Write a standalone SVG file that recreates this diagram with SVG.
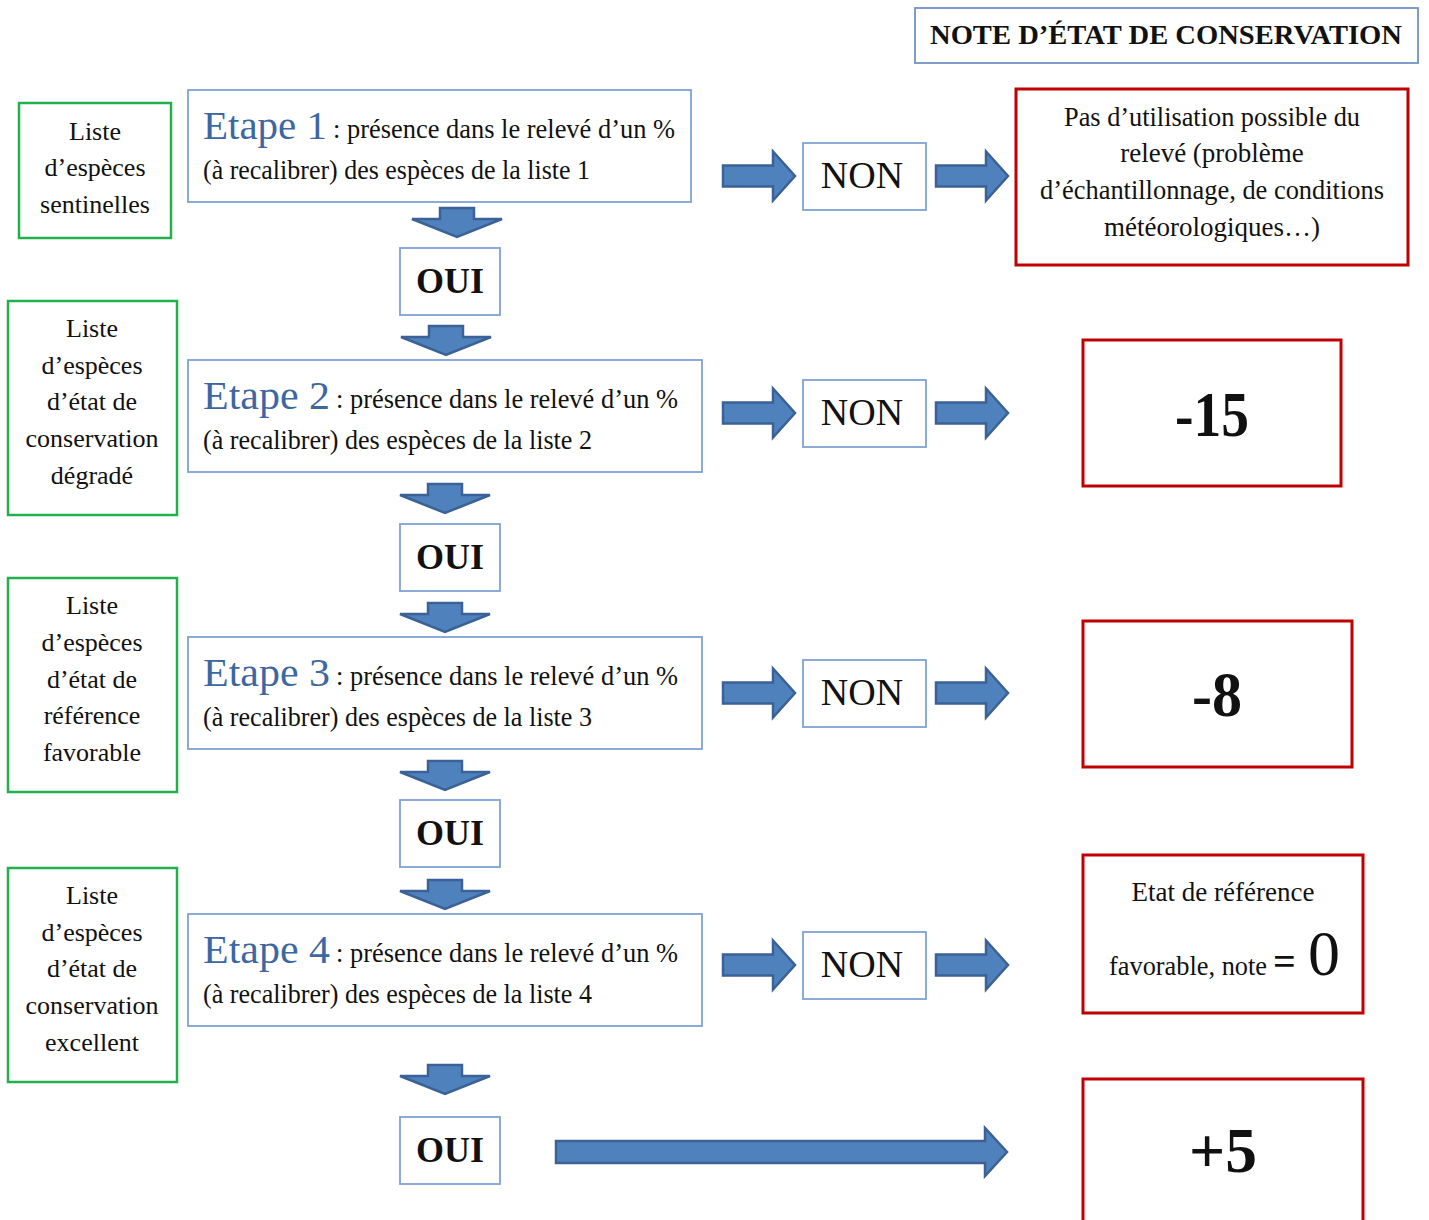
<svg xmlns="http://www.w3.org/2000/svg" width="1429" height="1220" viewBox="0 0 1429 1220">
<style>
text{font-family:"Liberation Serif","DejaVu Serif",serif;fill:#111}
.g{fill:#fff;stroke:#22b04c;stroke-width:2.5}
.b{fill:#fff;stroke:#7fa2d4;stroke-width:1.8}
.r{fill:#fff;stroke:#c00000;stroke-width:3}
.t{fill:#fff;stroke:#6f93c8;stroke-width:1.8}
.arr{fill:#4f81bd;stroke:#3a6296;stroke-width:2.5;stroke-linejoin:miter}
.gt{font-size:26px;text-anchor:middle}
.et{font-size:40px;fill:#3d67a2}
.st{font-size:27px}
.oui{font-size:36px;font-weight:bold;text-anchor:middle}
.non{font-size:38px;text-anchor:middle}
.rt{font-size:27px;text-anchor:middle}
.big{font-size:64px;text-anchor:middle}
</style>
<defs>
<path id="da" d="M-17,0 H17 V11 H45 L0,29 L-45,11 H-17 Z"/>
<path id="ra" d="M0,-10.5 H50 V-24.5 L72,0 L50,24.5 V10.5 H0 Z"/>
</defs>

<g id="title">
<rect class="t" x="915" y="8" width="503" height="55"/>
<text x="1166" y="44" font-size="28" font-weight="bold" text-anchor="middle" textLength="472" lengthAdjust="spacingAndGlyphs">NOTE D’ÉTAT DE CONSERVATION</text>
</g>

<g id="liste1">
<rect class="g" x="19" y="103" width="152" height="135"/>
<text class="gt" x="95" y="140">Liste</text>
<text class="gt" x="95" y="176">d’espèces</text>
<text class="gt" x="95" y="213">sentinelles</text>
</g>
<g id="liste2">
<rect class="g" x="8" y="301" width="169" height="214"/>
<text class="gt" x="92" y="337">Liste</text>
<text class="gt" x="92" y="374">d’espèces</text>
<text class="gt" x="92" y="410">d’état de</text>
<text class="gt" x="92" y="447">conservation</text>
<text class="gt" x="92" y="484">dégradé</text>
</g>
<g id="liste3">
<rect class="g" x="8" y="578" width="169" height="214"/>
<text class="gt" x="92" y="614">Liste</text>
<text class="gt" x="92" y="651">d’espèces</text>
<text class="gt" x="92" y="688">d’état de</text>
<text class="gt" x="92" y="724">référence</text>
<text class="gt" x="92" y="761">favorable</text>
</g>
<g id="liste4">
<rect class="g" x="8" y="868" width="169" height="214"/>
<text class="gt" x="92" y="904">Liste</text>
<text class="gt" x="92" y="941">d’espèces</text>
<text class="gt" x="92" y="977">d’état de</text>
<text class="gt" x="92" y="1014">conservation</text>
<text class="gt" x="92" y="1051">excellent</text>
</g>

<g id="etape1">
<rect class="b" x="188" y="90" width="503" height="112"/>
<text class="et" x="203" y="139" textLength="124" lengthAdjust="spacingAndGlyphs">Etape 1</text>
<text class="st" x="333" y="138" textLength="342" lengthAdjust="spacingAndGlyphs">: présence dans le relevé d’un %</text>
<text class="st" x="203" y="179" textLength="387" lengthAdjust="spacingAndGlyphs">(à recalibrer) des espèces de la liste 1</text>
</g>
<g id="etape2">
<rect class="b" x="188" y="360" width="514" height="112"/>
<text class="et" x="203" y="409" textLength="127" lengthAdjust="spacingAndGlyphs">Etape 2</text>
<text class="st" x="336" y="408" textLength="342" lengthAdjust="spacingAndGlyphs">: présence dans le relevé d’un %</text>
<text class="st" x="203" y="449" textLength="389" lengthAdjust="spacingAndGlyphs">(à recalibrer) des espèces de la liste 2</text>
</g>
<g id="etape3">
<rect class="b" x="188" y="637" width="514" height="112"/>
<text class="et" x="203" y="686" textLength="127" lengthAdjust="spacingAndGlyphs">Etape 3</text>
<text class="st" x="336" y="685" textLength="342" lengthAdjust="spacingAndGlyphs">: présence dans le relevé d’un %</text>
<text class="st" x="203" y="726" textLength="389" lengthAdjust="spacingAndGlyphs">(à recalibrer) des espèces de la liste 3</text>
</g>
<g id="etape4">
<rect class="b" x="188" y="914" width="514" height="112"/>
<text class="et" x="203" y="963" textLength="127" lengthAdjust="spacingAndGlyphs">Etape 4</text>
<text class="st" x="336" y="962" textLength="342" lengthAdjust="spacingAndGlyphs">: présence dans le relevé d’un %</text>
<text class="st" x="203" y="1003" textLength="389" lengthAdjust="spacingAndGlyphs">(à recalibrer) des espèces de la liste 4</text>
</g>

<g id="oui1"><rect class="b" x="400" y="248" width="100" height="67"/><text class="oui" x="450" y="293">OUI</text></g>
<g id="oui2"><rect class="b" x="400" y="524" width="100" height="67"/><text class="oui" x="450" y="569">OUI</text></g>
<g id="oui3"><rect class="b" x="400" y="800" width="100" height="67"/><text class="oui" x="450" y="845">OUI</text></g>
<g id="oui4"><rect class="b" x="400" y="1117" width="100" height="67"/><text class="oui" x="450" y="1162">OUI</text></g>

<g id="non1"><rect class="b" x="803" y="143" width="123" height="67"/><text class="non" x="862" y="188">NON</text></g>
<g id="non2"><rect class="b" x="803" y="380" width="123" height="67"/><text class="non" x="862" y="425">NON</text></g>
<g id="non3"><rect class="b" x="803" y="660" width="123" height="67"/><text class="non" x="862" y="705">NON</text></g>
<g id="non4"><rect class="b" x="803" y="932" width="123" height="67"/><text class="non" x="862" y="977">NON</text></g>

<g id="res1">
<rect class="r" x="1016" y="89" width="392" height="176"/>
<text class="rt" x="1212" y="126" textLength="296" lengthAdjust="spacingAndGlyphs">Pas d’utilisation possible du</text>
<text class="rt" x="1212" y="162">relevé (problème</text>
<text class="rt" x="1212" y="199" textLength="344" lengthAdjust="spacingAndGlyphs">d’échantillonnage, de conditions</text>
<text class="rt" x="1212" y="236">météorologiques…)</text>
</g>
<g id="res2">
<rect class="r" x="1083" y="340" width="258" height="146"/>
<text class="big" x="1212" y="436" font-weight="bold" textLength="74" lengthAdjust="spacingAndGlyphs">-15</text>
</g>
<g id="res3">
<rect class="r" x="1083" y="621" width="269" height="146"/>
<text class="big" x="1217" y="716" font-weight="bold" textLength="50" lengthAdjust="spacingAndGlyphs">-8</text>
</g>
<g id="res4">
<rect class="r" x="1083" y="855" width="280" height="158"/>
<text class="rt" x="1223" y="901">Etat de référence</text>
<text x="1109" y="975" font-size="27" textLength="158" lengthAdjust="spacingAndGlyphs">favorable, note</text>
<text x="1273" y="975" font-size="40" font-weight="bold">=</text>
<text x="1308" y="975" font-size="64">0</text>
</g>
<g id="res5">
<rect class="r" x="1083" y="1079" width="280" height="150"/>
<text class="big" x="1223" y="1172" font-weight="bold" textLength="68" lengthAdjust="spacingAndGlyphs">+5</text>
</g>

<g id="connectors">
<use href="#da" class="arr" x="457" y="208"/>
<use href="#da" class="arr" x="446" y="326"/>
<use href="#da" class="arr" x="445" y="484"/>
<use href="#da" class="arr" x="445" y="603"/>
<use href="#da" class="arr" x="445" y="761"/>
<use href="#da" class="arr" x="445" y="880"/>
<use href="#da" class="arr" x="445" y="1065"/>
<use href="#ra" class="arr" x="723" y="176"/>
<use href="#ra" class="arr" x="936" y="176"/>
<use href="#ra" class="arr" x="723" y="413"/>
<use href="#ra" class="arr" x="936" y="413"/>
<use href="#ra" class="arr" x="723" y="693"/>
<use href="#ra" class="arr" x="936" y="693"/>
<use href="#ra" class="arr" x="723" y="965"/>
<use href="#ra" class="arr" x="936" y="965"/>
<path class="arr" d="M556,1141 H985 V1128 L1007,1152 L985,1176 V1163 H556 Z"/>
</g>
</svg>
